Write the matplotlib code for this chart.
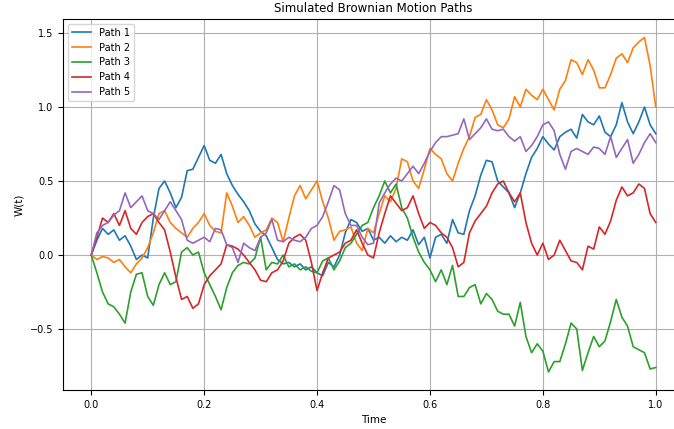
import numpy as np
import matplotlib
matplotlib.use("Agg")
import matplotlib.pyplot as plt

t = np.round(np.arange(0, 101) * 0.01, 2)

path1 = [0, 0.10, 0.18, 0.14, 0.17, 0.10, 0.13, 0.06, -0.03, 0.00,
         -0.02, 0.25, 0.45, 0.50, 0.42, 0.32, 0.39, 0.57, 0.58, 0.66,
         0.74, 0.64, 0.62, 0.68, 0.55, 0.47, 0.41, 0.36, 0.30, 0.21,
         0.16, 0.13, 0.05, -0.03, -0.06, -0.05, -0.08, -0.06, -0.10, -0.08,
         -0.12, -0.14, -0.05, -0.08, 0.00, 0.15, 0.24, 0.22, 0.16, 0.18,
         0.10, 0.12, 0.08, 0.13, 0.09, 0.12, 0.10, 0.17, 0.07, 0.12,
         -0.02, 0.12, 0.14, 0.08, 0.24, 0.15, 0.14, 0.30, 0.40, 0.54,
         0.64, 0.63, 0.50, 0.46, 0.42, 0.32, 0.42, 0.55, 0.66, 0.72,
         0.80, 0.75, 0.71, 0.80, 0.83, 0.85, 0.79, 0.95, 0.90, 0.88,
         0.94, 0.83, 0.80, 0.88, 1.03, 0.90, 0.82, 0.90, 1.00, 0.88,
         0.82]

path2 = [0, -0.03, -0.01, -0.02, -0.05, -0.03, -0.08, -0.12, -0.06, -0.02,
         0.05, 0.15, 0.28, 0.30, 0.22, 0.18, 0.15, 0.12, 0.18, 0.22,
         0.28, 0.20, 0.16, 0.15, 0.42, 0.33, 0.22, 0.26, 0.20, 0.12,
         0.15, 0.17, 0.25, 0.22, 0.09, 0.25, 0.40, 0.47, 0.38, 0.44,
         0.50, 0.36, 0.25, 0.10, 0.16, 0.17, 0.19, 0.08, 0.03, 0.18,
         0.15, 0.28, 0.40, 0.36, 0.45, 0.65, 0.63, 0.50, 0.45, 0.58,
         0.72, 0.68, 0.65, 0.55, 0.50, 0.62, 0.72, 0.80, 0.93, 0.95,
         1.05, 0.98, 0.88, 0.86, 0.92, 1.07, 1.00, 1.12, 1.08, 1.05,
         1.12, 1.05, 0.98, 1.12, 1.18, 1.32, 1.30, 1.22, 1.32, 1.25,
         1.13, 1.13, 1.22, 1.33, 1.36, 1.30, 1.40, 1.44, 1.47, 1.28,
         1.00]

path3 = [0, -0.12, -0.25, -0.33, -0.35, -0.40, -0.46, -0.25, -0.13, -0.12,
         -0.28, -0.34, -0.20, -0.12, -0.20, -0.18, 0.02, 0.05, 0.00, 0.02,
         -0.12, -0.20, -0.28, -0.37, -0.22, -0.12, -0.07, -0.05, -0.06, -0.02,
         0.12, -0.10, -0.05, -0.06, 0.00, -0.08, -0.06, -0.10, -0.08, -0.11,
         -0.12, -0.04, -0.02, -0.10, -0.04, 0.05, 0.08, 0.14, 0.20, 0.22,
         0.32, 0.40, 0.50, 0.42, 0.48, 0.32, 0.25, 0.12, 0.02, -0.05,
         -0.10, -0.18, -0.10, -0.20, -0.07, -0.28, -0.28, -0.22, -0.20, -0.33,
         -0.26, -0.30, -0.38, -0.40, -0.40, -0.48, -0.32, -0.55, -0.66, -0.60,
         -0.65, -0.79, -0.72, -0.72, -0.60, -0.46, -0.50, -0.78, -0.66, -0.55,
         -0.62, -0.58, -0.45, -0.30, -0.42, -0.48, -0.62, -0.64, -0.66, -0.77,
         -0.76]

path4 = [0, 0.12, 0.25, 0.22, 0.28, 0.20, 0.30, 0.18, 0.14, 0.22,
         0.26, 0.28, 0.22, 0.17, 0.02, -0.15, -0.30, -0.28, -0.36, -0.33,
         -0.20, -0.14, -0.10, -0.06, 0.07, 0.06, 0.04, 0.00, -0.05, -0.10,
         -0.17, -0.18, -0.12, -0.10, -0.04, 0.08, 0.12, 0.14, 0.10, -0.05,
         -0.24, -0.12, -0.02, 0.00, 0.02, 0.08, 0.10, 0.17, 0.08, 0.00,
         -0.02, 0.15, 0.28, 0.40, 0.35, 0.30, 0.32, 0.40, 0.28, 0.18,
         0.22, 0.20, 0.15, 0.12, 0.05, -0.08, -0.05, 0.15, 0.23, 0.28,
         0.33, 0.42, 0.48, 0.50, 0.42, 0.36, 0.42, 0.22, 0.08, 0.00,
         0.08, -0.03, 0.00, 0.10, 0.03, -0.04, -0.05, -0.10, 0.06, 0.04,
         0.19, 0.14, 0.23, 0.37, 0.46, 0.40, 0.42, 0.48, 0.45, 0.28,
         0.22]

path5 = [0, 0.15, 0.20, 0.22, 0.27, 0.30, 0.42, 0.32, 0.36, 0.40,
         0.30, 0.28, 0.24, 0.30, 0.36, 0.30, 0.24, 0.10, 0.08, 0.10,
         0.12, 0.09, 0.18, 0.17, 0.07, 0.05, -0.05, 0.08, 0.05, 0.03,
         0.12, 0.15, 0.24, 0.10, 0.09, 0.12, 0.10, 0.09, 0.12, 0.18,
         0.20, 0.26, 0.36, 0.47, 0.44, 0.28, 0.20, 0.20, 0.12, 0.07,
         0.08, 0.35, 0.42, 0.48, 0.52, 0.50, 0.55, 0.60, 0.55, 0.62,
         0.70, 0.76, 0.80, 0.80, 0.81, 0.82, 0.92, 0.78, 0.82, 0.86,
         0.92, 0.85, 0.84, 0.85, 0.80, 0.77, 0.80, 0.70, 0.74, 0.80,
         0.88, 0.90, 0.84, 0.68, 0.58, 0.70, 0.72, 0.70, 0.68, 0.73,
         0.72, 0.68, 0.80, 0.66, 0.72, 0.78, 0.62, 0.68, 0.76, 0.82,
         0.76]

labels = ["Path 1", "Path 2", "Path 3", "Path 4", "Path 5"]
paths = [path1, path2, path3, path4, path5]
colors = ["#1f77b4", "#ff7f0e", "#2ca02c", "#d62728", "#9467bd"]

fig = plt.figure(figsize=(6.74, 4.29), dpi=100)
ax = fig.add_axes([63 / 674, 39 / 429, 621 / 674, 371 / 429])

for p, lab, c in zip(paths, labels, colors):
    ax.plot(t, p, label=lab, color=c, linewidth=1.2)

ax.set_xlim(-0.05, 1.05)
ax.set_ylim(-0.912, 1.595)
ax.set_xticks([0.0, 0.2, 0.4, 0.6, 0.8, 1.0])
ax.set_yticks([-0.5, 0.0, 0.5, 1.0, 1.5])
ax.tick_params(labelsize=7)
ax.set_xlabel("Time", fontsize=7.5)
ax.set_ylabel("W(t)", fontsize=7.5)
ax.set_title("Simulated Brownian Motion Paths", fontsize=8.5, pad=5)
ax.grid(True)
ax.legend(loc="upper left", fontsize=7)

fig.savefig("out.png", dpi=100)
